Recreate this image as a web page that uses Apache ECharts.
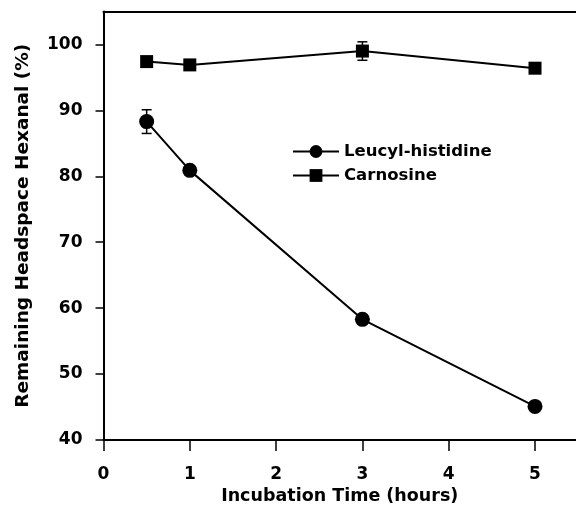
<!DOCTYPE html>
<html>
<head>
<meta charset="utf-8">
<script src="https://cdn.jsdelivr.net/npm/echarts@6/dist/echarts.min.js"></script>
<style>
  html, body { margin: 0; padding: 0; background: #fff; }
  #chart { width: 576px; height: 517px; }
</style>
</head>
<body>
<div id="chart"></div>
<script>
// data
const timeHours = [0.5, 1, 3, 5];
const leucyl = [88.3, 80.9, 58.3, 45.1];
const leucylErr = [1.8, 0.4, 0.4, 0.3];
const carnosine = [97.4, 96.9, 99.0, 96.4];
const carnosineErr = [0.4, 0.3, 1.4, 0.4];
const xTicks = [0, 1, 2, 3, 4, 5];
const yTicks = [40, 50, 60, 70, 80, 90, 100];

const font = 'DejaVu Sans, sans-serif';

function pairs(ys) {
  return timeHours.map((x, i) => [x, ys[i]]);
}
function errData(ys, errs) {
  return timeHours.map((x, i) => [x, ys[i] - errs[i], ys[i] + errs[i]]);
}

// whisker with caps, drawn via axis coords
function renderErr(params, api) {
  const lo = api.coord([api.value(0), api.value(1)]);
  const hi = api.coord([api.value(0), api.value(2)]);
  const w = 5;
  const st = { stroke: '#000', lineWidth: 1.5 };
  return {
    type: 'group',
    children: [
      { type: 'line', shape: { x1: lo[0], y1: lo[1], x2: hi[0], y2: hi[1] }, style: st },
      { type: 'line', shape: { x1: lo[0] - w, y1: lo[1], x2: lo[0] + w, y2: lo[1] }, style: st },
      { type: 'line', shape: { x1: hi[0] - w, y1: hi[1], x2: hi[0] + w, y2: hi[1] }, style: st }
    ]
  };
}

const myChart = echarts.init(document.getElementById('chart'));
const option = {
  animation: false,
  textStyle: { fontFamily: font },
  grid: { left: 103.5, top: 11.5, right: 0, bottom: 77 },
  legend: {
    orient: 'vertical',
    left: 287, top: 138,
    itemWidth: 46, itemHeight: 16, itemGap: 7,
    textStyle: { fontFamily: font, fontWeight: 'bold', color: '#000', fontSize: 16.5 },
    data: ['Leucyl-histidine', 'Carnosine']
  },
  xAxis: [{
    type: 'value', min: 0, max: 5.475,
    name: 'Incubation Time (hours)', nameLocation: 'middle', nameGap: 46,
    nameTextStyle: { fontFamily: font, fontWeight: 'bold', color: '#000', fontSize: 17.5 },
    axisLine: { lineStyle: { color: '#000', width: 2 } },
    axisTick: { show: true, length: 11, customValues: xTicks, lineStyle: { color: '#000', width: 1.5 } },
    axisLabel: { margin: 26, customValues: xTicks, fontFamily: font, fontWeight: 'bold', color: '#000', fontSize: 17 },
    splitLine: { show: false }
  }, {
    // top frame line only
    type: 'value', position: 'top', min: 0, max: 5.475,
    axisLine: { lineStyle: { color: '#000', width: 2 } },
    axisTick: { show: false }, axisLabel: { show: false }, splitLine: { show: false }
  }],
  yAxis: {
    type: 'value', min: 40, max: 105,
    name: 'Remaining Headspace Hexanal (%)', nameLocation: 'middle', nameGap: 71,
    nameTextStyle: { fontFamily: font, fontWeight: 'bold', color: '#000', fontSize: 18.5 },
    axisLine: { lineStyle: { color: '#000', width: 2 } },
    axisTick: { show: true, length: 8, customValues: yTicks, lineStyle: { color: '#000', width: 1.5 } },
    axisLabel: { margin: 21, customValues: yTicks, fontFamily: font, fontWeight: 'bold', color: '#000', fontSize: 17 },
    splitLine: { show: false }
  },
  series: [
    {
      name: 'Leucyl-histidine', type: 'line', data: pairs(leucyl),
      symbol: 'circle', symbolSize: 15,
      lineStyle: { color: '#000', width: 2 },
      itemStyle: { color: '#000' }, z: 3
    },
    {
      name: 'Carnosine', type: 'line', data: pairs(carnosine),
      symbol: 'rect', symbolSize: 13,
      lineStyle: { color: '#000', width: 2 },
      itemStyle: { color: '#000' }, z: 3
    },
    { type: 'custom', renderItem: renderErr, data: errData(leucyl, leucylErr), z: 2 },
    { type: 'custom', renderItem: renderErr, data: errData(carnosine, carnosineErr), z: 2 }
  ]
};
myChart.setOption(option);
window.addEventListener('resize', () => myChart.resize());
</script>
</body>
</html>
